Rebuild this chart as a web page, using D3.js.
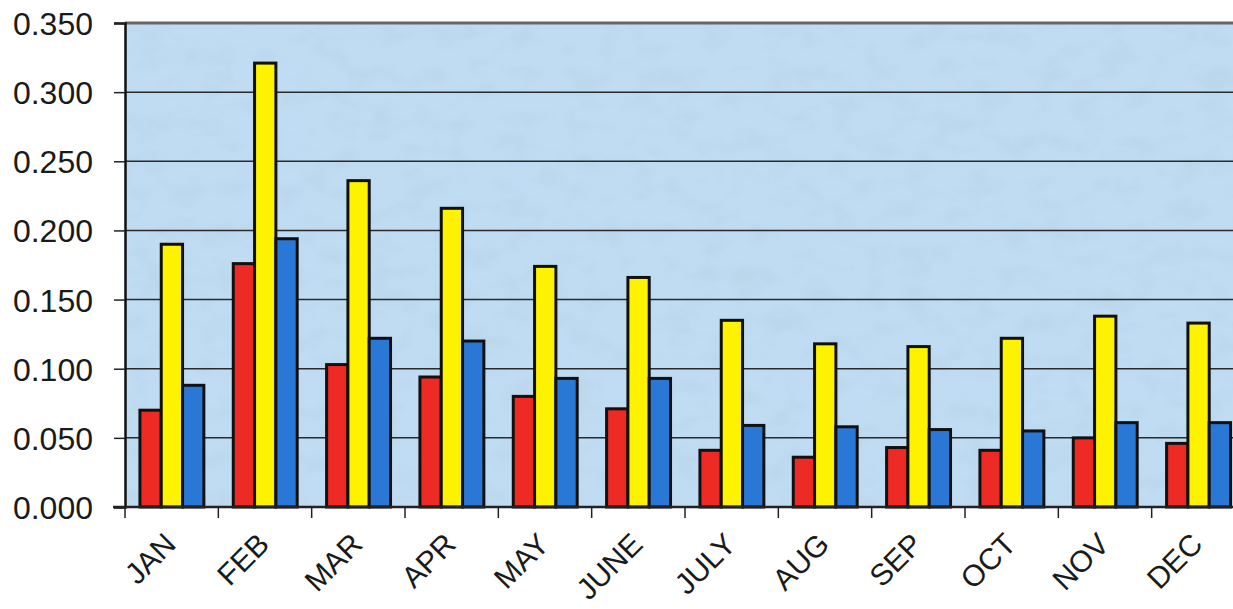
<!DOCTYPE html>
<html>
<head>
<meta charset="utf-8">
<script src="https://cdn.jsdelivr.net/npm/d3@7"></script>
<style>
  body { margin: 0; background: #fff; }
  text { font-family: "Liberation Sans", Arial, sans-serif; fill: #1a1a1a; }
</style>
</head>
<body>
<div id="chart"></div>
<script>
const months = ['JAN', 'FEB', 'MAR', 'APR', 'MAY', 'JUNE', 'JULY', 'AUG', 'SEP', 'OCT', 'NOV', 'DEC'];
const series = ['red', 'yellow', 'blue'];
const redValues = [0.070, 0.176, 0.103, 0.094, 0.080, 0.071, 0.041, 0.036, 0.043, 0.041, 0.050, 0.046];
const yellowValues = [0.190, 0.321, 0.236, 0.216, 0.174, 0.166, 0.135, 0.118, 0.116, 0.122, 0.138, 0.133];
const blueValues = [0.088, 0.194, 0.122, 0.120, 0.093, 0.093, 0.059, 0.058, 0.056, 0.055, 0.061, 0.061];
const yTicks = [0, 0.05, 0.10, 0.15, 0.20, 0.25, 0.30, 0.35];

const width = 1233;
const height = 609;
const plotLeft = 125, plotRight = 1245, plotTop = 23, plotBottom = 507;

const colors = { red: '#ee2a24', yellow: '#fff200', blue: '#2a78d6' };
const valuesBySeries = { red: redValues, yellow: yellowValues, blue: blueValues };

const svg = d3.select('#chart').append('svg')
    .attr('width', width)
    .attr('height', height);

// water-drop like texture for the plot background
const defs = svg.append('defs');
const filter = defs.append('filter').attr('id', 'drops')
    .attr('x', 0).attr('y', 0).attr('width', 1).attr('height', 1);
filter.append('feTurbulence')
    .attr('type', 'fractalNoise')
    .attr('baseFrequency', '0.03 0.045')
    .attr('numOctaves', 3)
    .attr('seed', 7)
    .attr('result', 'noise');
filter.append('feColorMatrix')
    .attr('in', 'noise')
    .attr('type', 'matrix')
    .attr('values', '0 0 0 0 0.50  0 0 0 0 0.68  0 0 0 0 0.84  0 0 0 -2.6 1.45')
    .attr('result', 'spots');
filter.append('feComposite').attr('in', 'spots').attr('in2', 'SourceGraphic').attr('operator', 'in');

const x0 = d3.scaleBand()
    .domain(months)
    .range([plotLeft, plotRight])
    .padding(0);

const x1 = d3.scaleBand()
    .domain(series)
    .range([x0.bandwidth() * 0.16, x0.bandwidth() * 0.845])
    .padding(0);

const y = d3.scaleLinear()
    .domain([0, 0.35])
    .range([plotBottom, plotTop]);

const plot = svg.append('g').attr('class', 'plot');
plot.append('rect')
    .attr('x', plotLeft).attr('y', plotTop)
    .attr('width', plotRight - plotLeft).attr('height', plotBottom - plotTop)
    .attr('fill', '#c0dcf2');
plot.append('rect')
    .attr('x', plotLeft).attr('y', plotTop)
    .attr('width', plotRight - plotLeft).attr('height', plotBottom - plotTop)
    .attr('fill', '#c0dcf2')
    .attr('filter', 'url(#drops)');

// gridlines
plot.selectAll('.grid')
    .data(yTicks.filter(d => d > 0))
    .enter()
    .append('line')
    .attr('class', 'grid')
    .attr('x1', plotLeft).attr('x2', plotRight)
    .attr('y1', d => y(d)).attr('y2', d => y(d))
    .attr('stroke', d => d === 0.35 ? '#666' : '#2a2a2a')
    .attr('stroke-width', d => d === 0.35 ? 3 : 1.5);

// bars
const groups = plot.selectAll('.month')
    .data(months)
    .enter()
    .append('g')
    .attr('class', 'month')
    .attr('transform', d => `translate(${x0(d)}, 0)`);

groups.selectAll('rect')
    .data((m, i) => series.map(s => ({ s, v: valuesBySeries[s][i] })))
    .enter()
    .append('rect')
    .attr('x', d => x1(d.s))
    .attr('y', d => y(d.v))
    .attr('width', x1.bandwidth())
    .attr('height', d => y(0) - y(d.v))
    .attr('fill', d => colors[d.s])
    .attr('stroke', '#111')
    .attr('stroke-width', 3);

// y axis
const yAxis = d3.axisLeft(y)
    .tickValues(yTicks)
    .tickFormat(d3.format('.3f'))
    .tickSize(11)
    .tickPadding(21);
const gy = svg.append('g')
    .attr('transform', `translate(${plotLeft}, 0)`)
    .call(yAxis);
gy.select('.domain').attr('stroke', '#111').attr('stroke-width', 2.5);
gy.selectAll('.tick line').attr('stroke', '#222').attr('stroke-width', 1.5);
gy.selectAll('.tick text')
    .style('font-size', '32px')
    .attr('dy', '0.36em')
    .attr('fill', '#1a1a1a');

// x axis baseline + ticks at band edges
svg.append('line')
    .attr('x1', plotLeft - 12).attr('x2', plotRight)
    .attr('y1', plotBottom).attr('y2', plotBottom)
    .attr('stroke', '#222').attr('stroke-width', 2.5);
svg.selectAll('.xtick')
    .data(months)
    .enter()
    .append('line')
    .attr('class', 'xtick')
    .attr('x1', d => x0(d)).attr('x2', d => x0(d))
    .attr('y1', plotBottom).attr('y2', plotBottom + 11)
    .attr('stroke', '#222').attr('stroke-width', 1.5);

svg.selectAll('.xlabel')
    .data(months)
    .enter()
    .append('text')
    .attr('class', 'xlabel')
    .attr('transform', d => `translate(${x0(d) + x0.bandwidth() / 2 + 6}, 546) rotate(-45)`)
    .attr('text-anchor', 'end')
    .style('font-size', '30px')
    .text(d => d);
</script>
</body>
</html>
